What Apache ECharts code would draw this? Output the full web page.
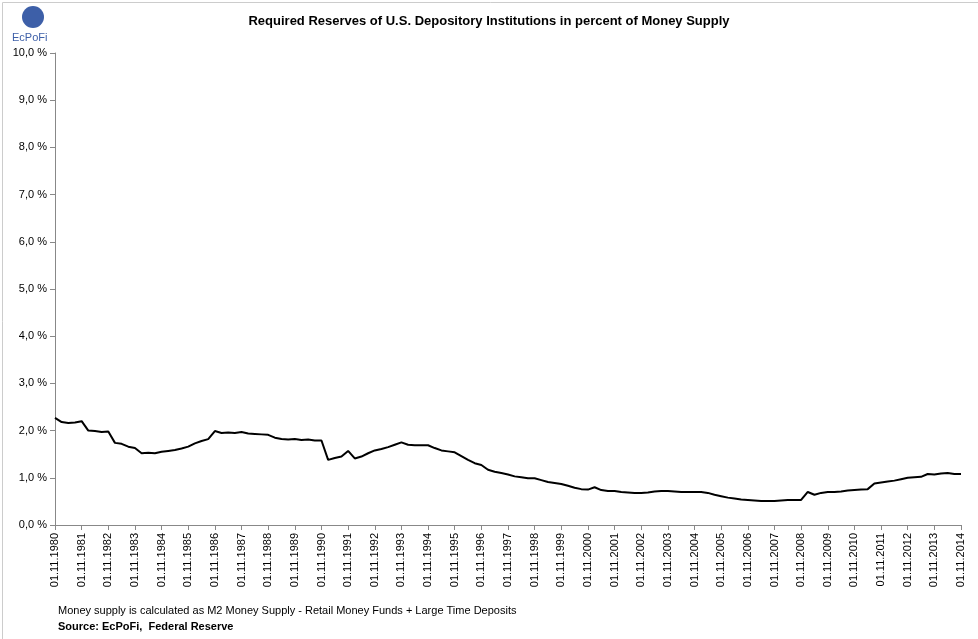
<!DOCTYPE html>
<html><head><meta charset="utf-8">
<script src="https://cdn.jsdelivr.net/npm/echarts@6/dist/echarts.min.js"></script>
<style>html,body{margin:0;padding:0;background:#fff}#c{width:978px;height:639px}</style>
</head><body><div id="c"></div>
<script>
// quarterly values, starting 01.11.1980 (Nov, Feb, May, Aug per row)
const values = [
2.27,2.18,2.16,2.17,
2.20,2.00,1.99,1.97,
1.98,1.74,1.72,1.66,
1.63,1.52,1.53,1.52,
1.55,1.57,1.59,1.62,
1.66,1.73,1.78,1.82,
1.99,1.95,1.96,1.95,
1.97,1.94,1.93,1.92,
1.91,1.85,1.82,1.81,
1.82,1.80,1.81,1.79,
1.79,1.38,1.42,1.45,
1.57,1.41,1.45,1.52,
1.58,1.61,1.65,1.70,
1.75,1.70,1.69,1.69,
1.69,1.63,1.58,1.56,
1.54,1.46,1.38,1.31,
1.27,1.17,1.13,1.10,
1.07,1.03,1.01,0.99,
0.99,0.95,0.91,0.89,
0.87,0.83,0.79,0.76,
0.75,0.80,0.74,0.72,
0.72,0.70,0.69,0.68,
0.68,0.69,0.71,0.72,
0.72,0.71,0.70,0.70,
0.70,0.70,0.68,0.64,
0.61,0.58,0.56,0.54,
0.53,0.52,0.51,0.51,
0.51,0.52,0.53,0.53,
0.53,0.70,0.64,0.68,
0.70,0.70,0.71,0.73,
0.74,0.75,0.76,0.88,
0.90,0.92,0.94,0.97,
1.00,1.01,1.02,1.08,
1.07,1.09,1.10,1.08,
1.08
];
const months = ['11','02','05','08'];
const categories = values.map((v,i)=>{
  const m = months[i%4];
  const y = 1980 + Math.floor(i/4) + (i%4===0?0:1);
  return '01.'+m+'.'+y;
});
const chart = echarts.init(document.getElementById('c'));
chart.setOption({
  animation:false,
  title:{text:'Required Reserves of U.S. Depository Institutions in percent of Money Supply',left:'center',top:10,
    textStyle:{fontFamily:'Liberation Sans',fontSize:13,fontWeight:'bold',color:'#000'}},
  grid:{left:55,right:17,top:53,bottom:114},
  xAxis:{type:'category',data:categories,boundaryGap:false,
    axisLine:{lineStyle:{color:'#888'}},
    axisTick:{interval:(i)=>i%4===0,lineStyle:{color:'#888'}},
    axisLabel:{interval:(i)=>i%4===0,rotate:90,color:'#000',fontSize:11,fontFamily:'Liberation Sans'}},
  yAxis:{type:'value',min:0,max:10,interval:1,
    axisLine:{show:true,lineStyle:{color:'#888'}},axisTick:{show:true,lineStyle:{color:'#888'}},
    splitLine:{show:false},
    axisLabel:{formatter:v=>v.toFixed(1).replace('.',',')+' %',color:'#000',fontSize:11,fontFamily:'Liberation Sans'}},
  series:[{type:'line',data:values,showSymbol:false,lineStyle:{color:'#000',width:2}}],
  graphic:[
    {type:'rect',left:0,top:0,shape:{width:977,height:638},style:{fill:'none',stroke:'#ccc'}},
    {type:'circle',shape:{cx:33,cy:17,r:11},style:{fill:'#3d5fa8'}},
    {type:'text',left:12,top:32,style:{text:'EcPoFi',fill:'#3d5fa8',font:'11px Liberation Sans'}},
    {type:'text',left:58,top:605,style:{text:'Money supply is calculated as M2 Money Supply - Retail Money Funds + Large Time Deposits',fill:'#000',font:'11px Liberation Sans'}},
    {type:'text',left:58,top:621,style:{text:'Source: EcPoFi,  Federal Reserve',fill:'#000',font:'bold 11px Liberation Sans'}}
  ]
});
</script></body></html>
